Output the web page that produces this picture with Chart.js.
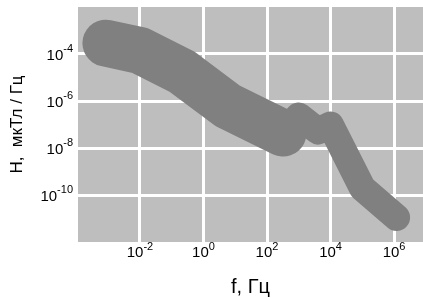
<!DOCTYPE html>
<html>
<head>
<meta charset="utf-8">
<script src="https://cdn.jsdelivr.net/npm/chart.js@4"></script>
<style>
  body { margin: 0; background: #fff; }
  canvas { display: block; }
</style>
</head>
<body>
<canvas id="chart" width="423" height="298"></canvas>
<script>
const freq = [8.5e-4, 1e-2, 0.22, 6, 320, 1e3, 4e3, 1e4, 1e5, 1.2e6];
const fieldH = [2.9e-4, 1.4e-4, 1.7e-5, 6e-7, 4.3e-8, 2.3e-7, 5.3e-8, 9.5e-8, 2e-10, 1.1e-11];
const xTickExp = [-2, 0, 2, 4, 6];
const yTickExp = [-10, -8, -6, -4];
const xTitle = 'f, Гц';
const yTitle = 'H,  мкТл / Гц';

const FONT = '"Liberation Sans", Arial, sans-serif';
const lineColor = '#808080';
const panelColor = '#bebebe';

// the band is wide up to ~300 Hz, then thinner
const thickEnd = 4;

const panelBg = {
  id: 'panelBg',
  beforeDraw(chart) {
    const { ctx, chartArea: a } = chart;
    ctx.save();
    ctx.fillStyle = panelColor;
    ctx.fillRect(a.left, a.top, a.right - a.left, a.bottom - a.top);
    ctx.restore();
  }
};

// tick labels as 10 with raised exponent, plus axis titles
const powerLabels = {
  id: 'powerLabels',
  afterDraw(chart) {
    const ctx = chart.ctx;
    const xs = chart.scales.x, ys = chart.scales.y;
    const a = chart.chartArea;
    const base = '15px ' + FONT, sup = '11px ' + FONT;
    ctx.save();
    ctx.fillStyle = '#000';
    ctx.textBaseline = 'alphabetic';
    ctx.textAlign = 'left';

    xTickExp.forEach(e => {
      const px = xs.getPixelForValue(Math.pow(10, e));
      ctx.font = base;
      const wb = ctx.measureText('10').width;
      ctx.font = sup;
      const we = ctx.measureText(String(e)).width;
      const x0 = px - (wb + we) / 2;
      ctx.font = base;
      ctx.fillText('10', x0, a.bottom + 15);
      ctx.font = sup;
      ctx.fillText(String(e), x0 + wb, a.bottom + 8);
    });

    yTickExp.forEach(e => {
      const py = ys.getPixelForValue(Math.pow(10, e));
      ctx.font = sup;
      const we = ctx.measureText(String(e)).width;
      ctx.font = base;
      const wb = ctx.measureText('10').width;
      const x1 = a.left - 5;
      ctx.fillText('10', x1 - we - wb, py + 6);
      ctx.font = sup;
      ctx.fillText(String(e), x1 - we, py - 2);
    });

    ctx.textAlign = 'center';
    ctx.font = '20px ' + FONT;
    ctx.fillText(xTitle, (a.left + a.right) / 2, 293);

    ctx.font = '17px ' + FONT;
    ctx.translate(22, (a.top + a.bottom) / 2);
    ctx.rotate(-Math.PI / 2);
    ctx.fillText(yTitle, 0, 0);
    ctx.restore();
  }
};

new Chart(document.getElementById('chart'), {
  type: 'line',
  data: {
    datasets: [{
      data: freq.map((f, i) => ({ x: f, y: fieldH[i] })),
      borderColor: lineColor,
      borderCapStyle: 'round',
      borderJoinStyle: 'round',
      pointRadius: 0,
      tension: 0,
      clip: false,
      segment: {
        borderWidth: c => c.p0DataIndex < thickEnd ? 47 : 27
      }
    }]
  },
  options: {
    responsive: false,
    animation: false,
    layout: { padding: { left: 78, right: 0, top: 7, bottom: 56 } },
    plugins: { legend: { display: false }, tooltip: { enabled: false } },
    scales: {
      x: {
        type: 'logarithmic',
        min: Math.pow(10, -3.95),
        max: Math.pow(10, 6.91),
        afterBuildTicks: s => { s.ticks = xTickExp.map(e => ({ value: Math.pow(10, e) })); },
        ticks: { display: false },
        grid: { color: '#fff', lineWidth: 3, drawTicks: false },
        border: { display: false }
      },
      y: {
        type: 'logarithmic',
        min: 1e-12,
        max: 1e-2,
        afterBuildTicks: s => { s.ticks = yTickExp.map(e => ({ value: Math.pow(10, e) })); },
        ticks: { display: false },
        grid: { color: '#fff', lineWidth: 3, drawTicks: false },
        border: { display: false }
      }
    }
  },
  plugins: [panelBg, powerLabels]
});
</script>
</body>
</html>
